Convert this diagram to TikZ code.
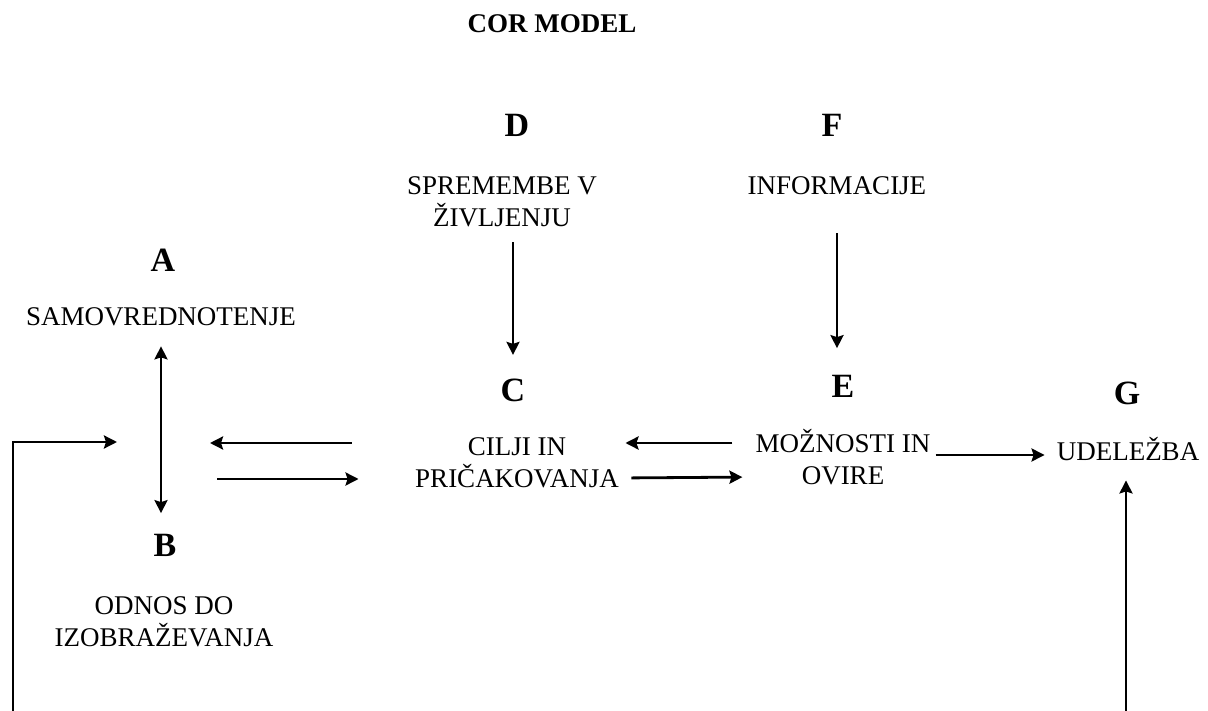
\documentclass[tikz,border=0pt]{standalone}
\usepackage{fontspec}
\setmainfont{Liberation Serif}
\usetikzlibrary{arrows.meta}

\begin{document}
\begin{tikzpicture}[x=1pt, y=-1pt,
    letter/.style={font=\fontsize{34}{40}\selectfont\bfseries, inner sep=0pt},
    txt/.style={font=\fontsize{27}{32}\selectfont, align=center, inner sep=0pt},
    >={Stealth[length=13pt,width=13pt,inset=2pt]},
    arr/.style={line width=2.8pt, ->}]
    \useasboundingbox (0,0) rectangle (1208,711);

    % Title
    \node[font=\fontsize{27}{32}\selectfont\bfseries, inner sep=0pt] (title) at (552,24) {COR MODEL};

    % Letters
    \node[letter] (A) at (163,260) {A};
    \node[letter] (B) at (165,545) {B};
    \node[letter] (C) at (513,390) {C};
    \node[letter] (D) at (517,125) {D};
    \node[letter] (E) at (843,386) {E};
    \node[letter] (F) at (832,125) {F};
    \node[letter] (G) at (1127,393) {G};

    % Texts
    \node[txt] (Atext) at (161,317) {SAMOVREDNOTENJE};
    \node[txt] (Btext) at (164,621.5) {ODNOS DO\\IZOBRAŽEVANJA};
    \node[txt] (Ctext) at (517,463) {CILJI IN\\PRIČAKOVANJA};
    \node[txt] (Dtext) at (502,202) {SPREMEMBE V\\ŽIVLJENJU};
    \node[txt] (Etext) at (843,457.5) {MOŽNOSTI IN\\OVIRE};
    \node[txt] (Ftext) at (837,186) {INFORMACIJE};
    \node[txt] (Gtext) at (1128,449.5) {UDELEŽBA};

    % Free ends
    \coordinate (AB) at (Atext.south |- Ctext.center);
    \coordinate (loop) at (13,711);
    \coordinate (gin) at (1126,711);

    % Vertical arrows
    \draw[arr, shorten <=15pt, shorten >=23.5pt] (C.north |- Dtext.south) -- (C.north);
    \draw[arr, shorten <=38pt, shorten >=26.5pt] (Ftext.south) -- (Ftext.south |- E.north);
    \draw[arr, <->, shorten <=20pt, shorten >=20.5pt] (Atext.south) -- (Atext.south |- B.north);

    % Arrows between A/B and C
    \draw[arr, shorten <=63.5pt, shorten >=49pt] ([yshift=20pt]Ctext.west) -- ([yshift=20pt]AB);
    \draw[arr, shorten <=56pt, shorten >=56.5pt] ([yshift=-16pt]AB) -- ([yshift=-16pt]Ctext.west);

    % Arrows between C and E
    \draw[arr, shorten <=23pt, shorten >=6.5pt] ([yshift=14.5pt]Etext.west) -- ([yshift=20pt]Ctext.east);
    \draw[arr, shorten <=12.5pt, shorten >=13pt] ([yshift=-15pt]Ctext.east) -- ([yshift=-19.5pt]Etext.west);

    % Arrow to G
    \draw[arr, shorten <=5pt, shorten >=12pt] ([yshift=2.5pt]Etext.east) -- ([yshift=-5.5pt]Gtext.west);

    % Feedback lines
    \draw[arr, shorten >=44pt] (loop) |- ([yshift=21pt]AB);
    \draw[arr, shorten >=19pt] (gin) -- (gin |- Gtext.south);
\end{tikzpicture}
\end{document}
